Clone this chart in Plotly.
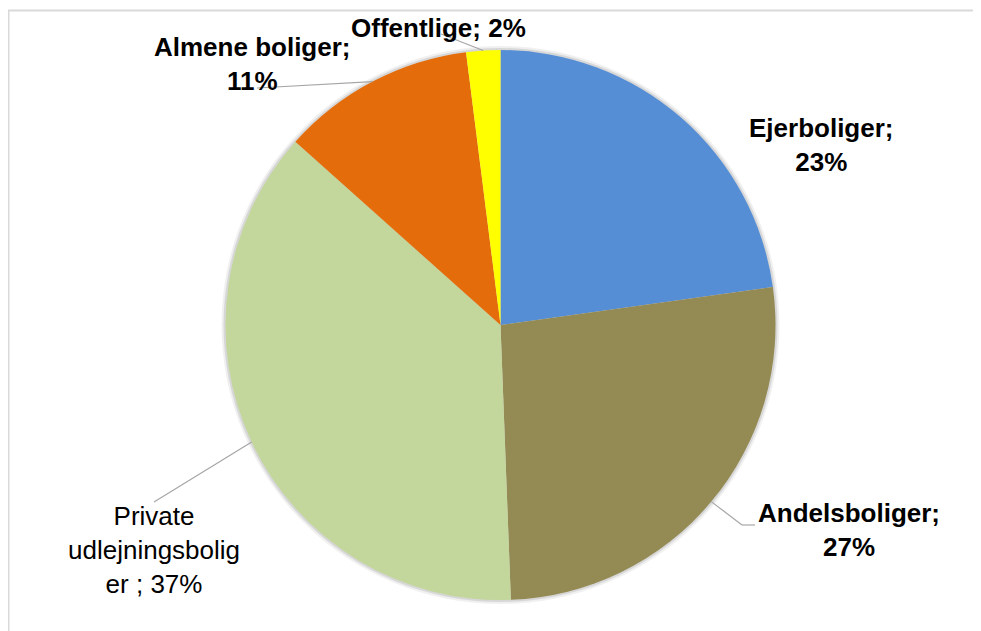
import math
import plotly.graph_objects as go

# ---- data ----
categories = ["Ejerboliger", "Andelsboliger", "Private udlejningsboliger", "Almene boliger", "Offentlige"]
values = [22.8, 26.6, 37.2, 11.4, 2.0]
colors = ["#558ED5", "#948A54", "#C3D69B", "#E46C0A", "#FFFF00"]
# label templates as shown in the chart ({p} = rounded percent)
label_templates = [
    "<b>Ejerboliger;<br>{p}%</b>",
    "<b>Andelsboliger;<br>{p}%</b>",
    "Private<br>udlejningsbolig<br>er ; {p}%",
    "<b>Almene boliger;<br>{p}%</b>",
    "<b>Offentlige; {p}%</b>",
]

# ---- layout (pixels, window coordinates) ----
W, H = 981, 631
OFF = 8  # page body margin
CX, CY, R = 500.5, 325.0, 275.0
label_pos = [(821, 145), (849, 530), (154, 550), (252, 64), (438, 28)]
# leader-line points from label side (None = no leader)
leader_from = [None, [(755, 525), (742, 525)], [(154, 502)], [(257, 88)], [(441, 34)]]


def px(x):
    return (x - OFF) / W


def py(y):
    return 1 - (y - OFF) / H


fig = go.Figure()

# soft glow/shadow behind pie (two layers)
for S, a in [(4, 0.06), (2, 0.10)]:
    fig.add_trace(go.Pie(
        values=[1], labels=["shadow%d" % S], marker=dict(colors=["rgba(0,0,0,%.2f)" % a], line=dict(width=0)),
        textinfo="none", hoverinfo="skip", showlegend=False, sort=False,
        domain=dict(x=[px(CX - R - S), px(CX + R + S)], y=[py(CY + R + S), py(CY - R - S)]),
    ))

fig.add_trace(go.Pie(
    labels=categories, values=values, sort=False, direction="clockwise", rotation=0,
    marker=dict(colors=colors, line=dict(width=0)),
    textinfo="none", showlegend=False,
    domain=dict(x=[px(CX - R), px(CX + R)], y=[py(CY + R), py(CY - R)]),
))

total = sum(values)
cum = 0
shapes = []
annotations = []
for i, v in enumerate(values):
    mid = (cum + v / 2) / total
    cum += v
    ang = 2 * math.pi * mid
    ex = CX + R * math.sin(ang)
    ey = CY - R * math.cos(ang)
    pts = leader_from[i]
    if pts:
        chain = pts + [(ex, ey)]
        for (x0, y0), (x1, y1) in zip(chain[:-1], chain[1:]):
            shapes.append(dict(type="line", xref="paper", yref="paper",
                               x0=px(x0), y0=py(y0), x1=px(x1), y1=py(y1),
                               line=dict(color="#A6A6A6", width=1.2)))
    lx, ly = label_pos[i]
    pct = int(round(100 * v / total))
    annotations.append(dict(x=px(lx), y=py(ly), xref="paper", yref="paper",
                            text=label_templates[i].format(p=pct), showarrow=False,
                            xanchor="center", yanchor="middle", align="center",
                            font=dict(family="Liberation Sans, Arial", size=26, color="#000000")))

# chart border
shapes.append(dict(type="rect", xref="paper", yref="paper",
                   x0=px(8.5), y0=-0.05, x1=1.05, y1=py(10.5),
                   line=dict(color="#D9D9D9", width=2), layer="below"))

fig.update_layout(
    width=W, height=H, margin=dict(l=0, r=0, t=0, b=0),
    paper_bgcolor="white", plot_bgcolor="white",
    shapes=shapes, annotations=annotations, showlegend=False,
)

fig.write_html("out.html")
